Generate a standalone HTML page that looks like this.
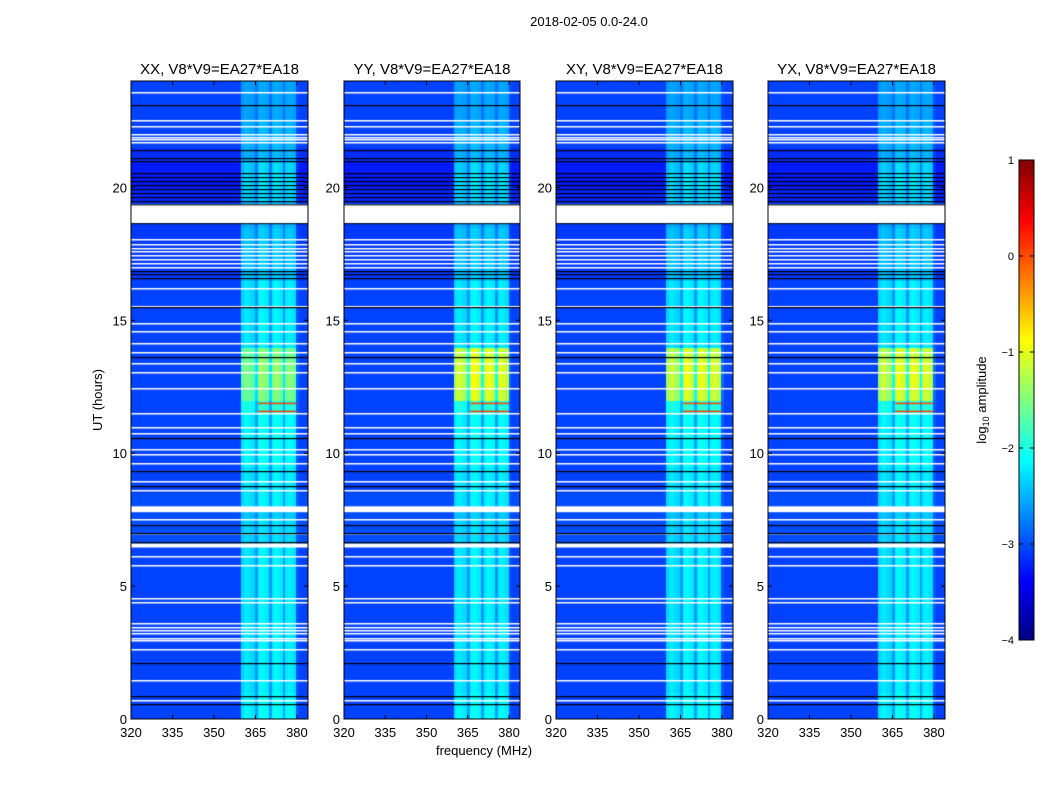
<!DOCTYPE html>
<html><head><meta charset="utf-8">
<style>
body{margin:0;background:#fff;width:1050px;height:800px;overflow:hidden;position:relative;font-family:"Liberation Sans",sans-serif}
canvas{position:absolute}
svg{position:absolute;left:0;top:0}
text{font-family:"Liberation Sans",sans-serif;fill:#000}
</style></head><body>
<canvas id="c0" width="177" height="638" style="left:131px;top:81px"></canvas>
<canvas id="c1" width="176" height="638" style="left:344px;top:81px"></canvas>
<canvas id="c2" width="177" height="638" style="left:556px;top:81px"></canvas>
<canvas id="c3" width="177" height="638" style="left:768px;top:81px"></canvas>
<canvas id="cb" width="15" height="480" style="left:1019px;top:160px"></canvas>
<svg id="ov" width="1050" height="800"></svg>
<script>
// ---- data ----
const panelTitles = ["XX, V8*V9=EA27*EA18","YY, V8*V9=EA27*EA18","XY, V8*V9=EA27*EA18","YX, V8*V9=EA27*EA18"];
const xTicks = [320,335,350,365,380];
const yTicks = [0,5,10,15,20];
const cbTicks = [1,0,-1,-2,-3,-4];
// frequency profile, 1 MHz channels 320..383 (band weight 0..1)
const freqProfile = [0,0,0,0,0,0,0,0,0,0, 0,0,0,0,0,0,0,0,0,0, 0,0,0,0,0,0,0,0,0,0, 0,0,0,0,0,0,0,0,0,0,
  0.75,0.85,0.85,0.8,0.75,0.45,0.9,0.95,0.9,0.85,0.45,0.85,0.95,0.9,0.85,0.45,0.85,0.9,0.85,0.8,0.1,0,0,0];
// base (off-band) level per half hour 0..24
const baseLevel = [-3.05,-3.05,-3.05,-3.05,-3.05,-3.05,-3.05,-3.05,-3.05,-3.05,-3.05,-3.05,-3.05,-3.0,-3.0,-3.0,-3.0,-3.05,-3.05,-3.05,-3.05,-3.05,-3.05,-3.05,
  -3.05,-3.05,-3.05,-3.05,-3.05,-3.05,-3.05,-3.05,-3.05,-3.1,-3.1,-3.1,-3.1,-3.1,-3.1,-3.2,-3.25,-3.25,-3.15,-3.05,-3.05,-3.05,-3.05,-3.05];
// in-band level per half hour 0..24
const bandLevel = [-2.0,-2.0,-2.1,-2.1,-2.1,-2.1,-2.1,-2.1,-2.1,-2.1,-2.1,-2.1,-2.1,-2.2,-2.2,-2.3,-2.1,-2.1,-2.1,-2.0,-2.0,-2.0,-2.0,-1.8,
  -1.35,-1.25,-1.25,-1.35,-2.1,-2.1,-2.1,-2.1,-2.1,-2.3,-2.3,-2.3,-2.3,-2.4,-2.4,-2.2,-2.1,-2.2,-2.4,-2.4,-2.4,-2.5,-2.5,-2.5];
const panelBoost = [0, 0.5, 0.45, 0.45];
// flagged rows (white) and dropouts (black), in hours
const whiteLines = [0.71,1.46,2.63,2.96,3.04,3.23,3.34,3.45,3.6,4.39,4.54,5.78,6.12,6.98,7.54,8.6,8.97,9.64,9.98,10.17,10.77,11.0,11.5,
  12.46,13.06,13.4,13.8,14.15,14.6,14.88,15.55,16.2,17.0,17.15,17.3,17.45,17.6,17.72,17.85,18.05,21.7,21.8,21.9,22.0,22.3,22.55,23.6];
const whiteBands = [[6.45,6.6],[7.78,8.0],[18.65,19.36]];
const blackLines = [0.56,0.86,2.1,6.65,6.98,7.28,8.78,9.34,10.58,13.6,15.5,16.6,16.75,16.85,19.5,19.65,19.8,19.95,20.1,20.25,20.4,20.55,21.0,21.1,21.4,23.1];
const redLines = [11.6,11.9];
// ---- scales ----
const H0=81,H1=719, X0=320,X1=384;
function jet(v){let t=Math.max(0,Math.min(1,(v+4)/5));
 const f=(a)=>Math.max(0,Math.min(1,a));
 return [f(1.5-Math.abs(4*t-3)),f(1.5-Math.abs(4*t-2)),f(1.5-Math.abs(4*t-1))].map(x=>Math.round(x*255));}
function col(v){const c=jet(v);return `rgb(${c[0]},${c[1]},${c[2]})`;}
for(let p=0;p<4;p++){
 const cv=document.getElementById('c'+p),ctx=cv.getContext('2d'),W=cv.width,H=cv.height;
 const yOf=h=>H-h/24*H, xOf=f=>(f-X0)/(X1-X0)*W;
 const rows=240;
 for(let r=0;r<rows;r++){const h=(r+0.5)/10, i=Math.min(47,Math.floor(h*2));
  let bl=bandLevel[i]; if(bl>-1.6) bl+=panelBoost[p];
  for(let f=0;f<freqProfile.length;f++){
   const v=baseLevel[i]+freqProfile[f]*(bl-baseLevel[i]);
   ctx.fillStyle=col(v);
   const x=xOf(X0+f),y=yOf((r+1)/10);
   ctx.fillRect(Math.floor(x),Math.floor(y),Math.ceil(xOf(X0+f+1)-x)+1,Math.ceil(H/rows)+1);
  }}
 ctx.fillStyle='rgb(255,60,0)';
 redLines.forEach(h=>{ctx.fillRect(xOf(366),yOf(h),xOf(380)-xOf(366),1.5);});
 ctx.fillStyle='#fff';
 whiteLines.forEach(h=>ctx.fillRect(0,Math.round(yOf(h)),W,1.5));
 whiteBands.forEach(b=>ctx.fillRect(0,yOf(b[1]),W,yOf(b[0])-yOf(b[1])));
 ctx.fillStyle='#000';
 blackLines.forEach(h=>ctx.fillRect(0,Math.round(yOf(h)),W,1.2));
 ctx.fillRect(0,yOf(19.36),W,1);ctx.fillRect(0,yOf(18.65),W,1);
}
// colorbar
{const cv=document.getElementById('cb'),ctx=cv.getContext('2d');
 for(let y=0;y<480;y++){ctx.fillStyle=col(1-y/480*5);ctx.fillRect(0,y,15,1);}}
// ---- overlay ----
const NS='http://www.w3.org/2000/svg',ov=document.getElementById('ov');
function el(tag,attrs,txt){const e=document.createElementNS(NS,tag);for(const k in attrs)e.setAttribute(k,attrs[k]);if(txt!==undefined)e.textContent=txt;ov.appendChild(e);return e;}
const lefts=[131,344,556,768], widths=[177,176,177,177];
let t=el('text',{x:589,y:26,'font-size':13,'text-anchor':'middle'},'2018-02-05 0.0-24.0');


for(let p=0;p<4;p++){
 const L=lefts[p],W=widths[p];
 const xs=f=>L+(f-X0)/(X1-X0)*W, ys=h=>H1-h/24*(H1-H0);
 let r=el('rect',{x:L,y:H0,width:W,height:H1-H0,fill:'none',stroke:'#000','stroke-width':1});
 
 
 let tt=el('text',{x:L+W/2,y:74,'font-size':15,'text-anchor':'middle'},panelTitles[p]);
 
 
 xTicks.forEach(v=>{const x=xs(v);
  el('line',{x1:x,x2:x,y1:H1,y2:H1-4,stroke:'#000'});el('line',{x1:x,x2:x,y1:H0,y2:H0+4,stroke:'#000'});
  let l=el('text',{x:x,y:737,'font-size':13,'text-anchor':'middle'},v);
  
  });
 yTicks.forEach(v=>{const y=ys(v);
  el('line',{x1:L,x2:L+4,y1:y,y2:y,stroke:'#000'});el('line',{x1:L+W-4,x2:L+W,y1:y,y2:y,stroke:'#000'});
  let l=el('text',{x:L-4,y:y+5,'font-size':13,'text-anchor':'end'},v);
  
  });
}
let yl=el('text',{x:102,y:400,'font-size':13,'text-anchor':'middle',transform:'rotate(-90 102 400)'},'UT (hours)');


let xl=el('text',{x:484,y:755,'font-size':13,'text-anchor':'middle'},'frequency (MHz)');


let cbr=el('rect',{x:1019,y:160,width:15,height:480,fill:'none',stroke:'#000'});


cbTicks.forEach(v=>{const y=160+(1-v)/5*480;
 el('line',{x1:1019,x2:1023,y1:y,y2:y,stroke:'#000'});el('line',{x1:1030,x2:1034,y1:y,y2:y,stroke:'#000'});
 let l=el('text',{x:1014,y:y+4,'font-size':11,'text-anchor':'end'},v<0?'\u2212'+(-v):v);
 
 });
let cl=el('text',{x:986,y:400,'font-size':13,'text-anchor':'middle',transform:'rotate(-90 986 400)'});
cl.innerHTML='log<tspan font-size="9" dy="3">10</tspan><tspan dy="-3"> amplitude</tspan>';


</script>
</body></html>
